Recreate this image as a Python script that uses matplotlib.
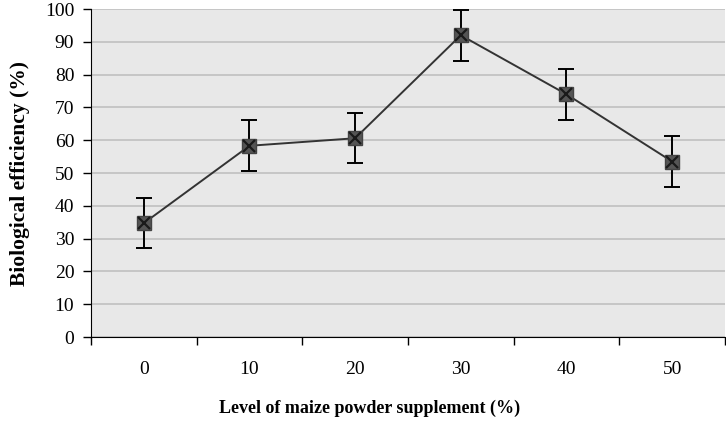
import matplotlib
matplotlib.use("Agg")
import matplotlib.pyplot as plt

niveaux = ["0", "10", "20", "30", "40", "50"]
efficacite = [34.7, 58.3, 60.6, 92.0, 74.0, 53.5]
erreurs = [7.7, 7.8, 7.7, 7.7, 7.7, 7.8]

plt.rcParams['font.family'] = ['Liberation Serif', 'DejaVu Serif']

fig = plt.figure(figsize=(7.26, 4.23), dpi=100)
ax = fig.add_axes([0.1253, 0.2033, 0.8733, 0.7754])
ax.set_facecolor('#e8e8e8')

x = list(range(len(niveaux)))
ax.errorbar(x, efficacite, yerr=erreurs, color='#333333', ecolor='black',
            elinewidth=1.4, capsize=6, capthick=1.4, linewidth=1.4, zorder=3)
ax.plot(x, efficacite, linestyle='none', marker='s', markersize=10,
        color='#555555', markeredgecolor='#444444', zorder=4)
ax.plot(x, efficacite, linestyle='none', marker='x', markersize=8,
        color='#1a1a1a', markeredgewidth=1.6, zorder=5)

ax.set_xlim(-0.5, len(niveaux) - 0.5)
ax.set_ylim(0, 100)
ax.set_yticks(range(0, 101, 10))
ax.yaxis.grid(True, color='#c0c0c0', linewidth=1.2)
ax.set_axisbelow(True)

# ticks entre les catégories, étiquettes au centre
ax.set_xticks([i - 0.5 for i in range(len(niveaux) + 1)])
ax.set_xticklabels([])
ax.set_xticks(x, minor=True)
ax.set_xticklabels(niveaux, minor=True)
ax.tick_params(axis='x', which='major', direction='out', length=6, width=1)
ax.tick_params(axis='x', which='minor', length=0, pad=17, labelsize=14)
ax.tick_params(axis='y', direction='out', length=6, width=1, labelsize=14, pad=6)

for s in ['top', 'right']:
    ax.spines[s].set_visible(False)

ax.set_xlabel('Level of maize powder supplement (%)', fontweight='bold', fontsize=13)
ax.xaxis.set_label_coords(0.44, -0.19)
ax.set_ylabel('Biological efficiency (%)', fontweight='bold', fontsize=15.5, labelpad=11)

fig.savefig('out.png', dpi=100)
